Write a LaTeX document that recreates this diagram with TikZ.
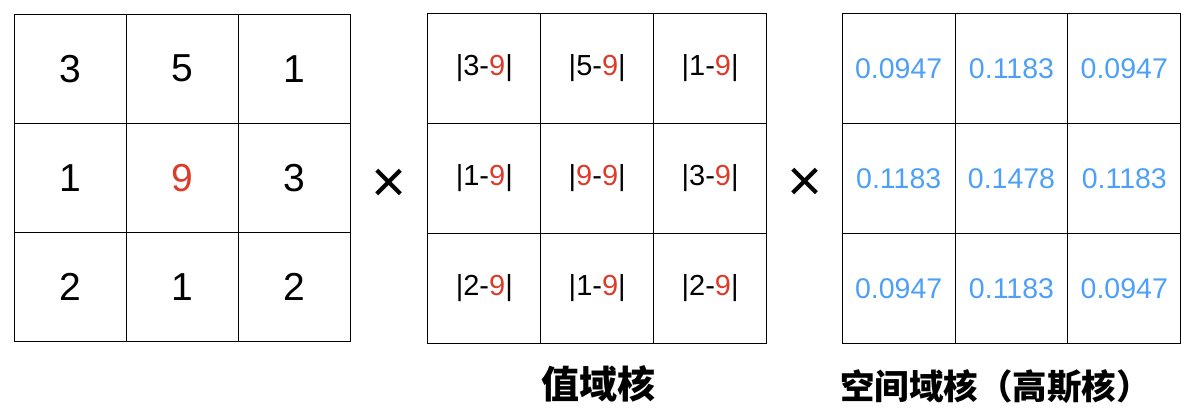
\documentclass[tikz,border=0pt]{standalone}
\usepackage{fontspec}
\usepackage{xcolor}
\usepackage{tikz}
\setmainfont{Liberation Sans}
\newfontfamily\cjk{Noto Sans CJK SC}
\definecolor{pixred}{RGB}{222,58,40}
\definecolor{gaussblue}{RGB}{77,160,245}
\NewDocumentCommand{\ctr}{}{\textcolor{pixred}{9}}
\NewDocumentCommand{\absd}{m}{|#1-\ctr|}

\begin{document}
\begin{tikzpicture}[x=1pt, y=-1pt,
		cell/.style={draw, line width=1pt, inner sep=0pt, minimum width=112.8pt, minimum height=110pt},
		pixcell/.style={cell, minimum width=112.3pt, minimum height=109.3pt, font=\fontsize{39}{39}\selectfont},
		rangecell/.style={cell, font=\fontsize{29}{29}\selectfont},
		gausscell/.style={cell, text=gaussblue, font=\fontsize{28.5}{28.5}\selectfont},
		times/.style={font=\fontsize{60}{60}\selectfont},
		caption/.style={font=\cjk\bfseries\fontsize{38}{38}\selectfont}]
		\useasboundingbox (0,0) rectangle (1202,418);

		% image patch
		\path (70.15,68.65) node[pixcell] (x11) {3};
		\path (x11) ++(112.3,0) node[pixcell] (x12) {5};
		\path (x12) ++(112.3,0) node[pixcell] (x13) {1};
		\path (x11) ++(0,109.3) node[pixcell] (x21) {1};
		\path (x21) ++(112.3,0) node[pixcell] (x22) {\ctr};
		\path (x22) ++(112.3,0) node[pixcell] (x23) {3};
		\path (x21) ++(0,109.3) node[pixcell] (x31) {2};
		\path (x31) ++(112.3,0) node[pixcell] (x32) {1};
		\path (x32) ++(112.3,0) node[pixcell] (x33) {2};

		\path (389,185.5) node[times] (t1) {×};

		% range kernel
		\path (484.3,68.3) node[rangecell] (r11) {\absd{3}};
		\path (r11) ++(112.9,0) node[rangecell] (r12) {\absd{5}};
		\path (r12) ++(112.9,0) node[rangecell] (r13) {\absd{1}};
		\path (r11) ++(0,110) node[rangecell] (r21) {\absd{1}};
		\path (r21) ++(112.9,0) node[rangecell] (r22) {\absd{\ctr}};
		\path (r22) ++(112.9,0) node[rangecell] (r23) {\absd{3}};
		\path (r21) ++(0,110) node[rangecell] (r31) {\absd{2}};
		\path (r31) ++(112.9,0) node[rangecell] (r32) {\absd{1}};
		\path (r32) ++(112.9,0) node[rangecell] (r33) {\absd{2}};
		\path (598,384) node[caption] (rl) {值域核};

		\path (805,185) node[times] (t2) {×};

		% spatial (gaussian) kernel
		\path (898.7,68.3) node[gausscell] (d11) {0.0947};
		\path (d11) ++(112.8,0) node[gausscell] (d12) {0.1183};
		\path (d12) ++(112.8,0) node[gausscell] (d13) {0.0947};
		\path (d11) ++(0,110) node[gausscell] (d21) {0.1183};
		\path (d21) ++(112.8,0) node[gausscell] (d22) {0.1478};
		\path (d22) ++(112.8,0) node[gausscell] (d23) {0.1183};
		\path (d21) ++(0,110) node[gausscell] (d31) {0.0947};
		\path (d31) ++(112.8,0) node[gausscell] (d32) {0.1183};
		\path (d32) ++(112.8,0) node[gausscell] (d33) {0.0947};
		\path (840,386.5) node[caption, font=\cjk\bfseries\fontsize{34.5}{34.5}\selectfont, anchor=west, inner sep=0pt] (dl) {空间域核（高斯核）};
	\end{tikzpicture}
\end{document}
